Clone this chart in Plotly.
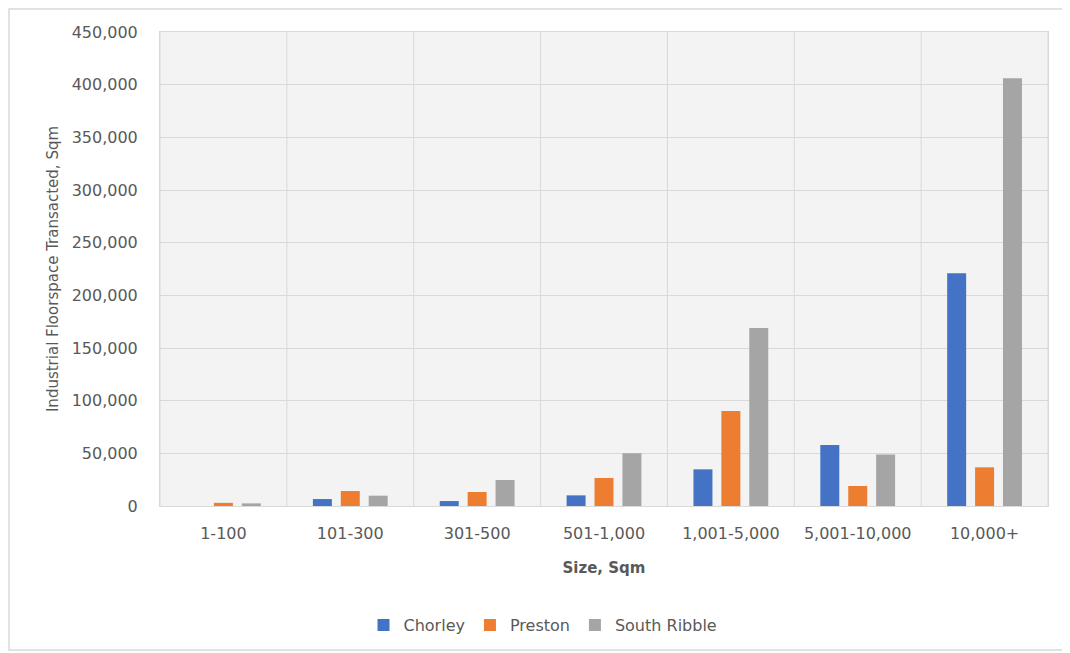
import plotly.graph_objects as go

categories = ["1-100", "101-300", "301-500", "501-1,000", "1,001-5,000", "5,001-10,000", "10,000+"]
chorley = [0, 6600, 4700, 10100, 34800, 57900, 221000]
preston = [3000, 14200, 13300, 26600, 90100, 19000, 36700]
south_ribble = [2500, 9800, 24700, 50000, 168900, 49000, 406000]
series_names = ["Chorley", "Preston", "South Ribble"]
colors = ["#4472C4", "#ED7D31", "#A5A5A5"]

FONT = "DejaVu Sans"
TXT = "#595959"

fig = go.Figure()
for name, vals, col in zip(series_names, [chorley, preston, south_ribble], colors):
    fig.add_trace(go.Bar(name=name, x=categories, y=vals, marker_color=col,
                         marker_line_width=0))

# plot area on screen: x 160..1048, y 32..506
PW, PH = 888.0, 474.0
shapes = []
for i in range(len(categories) + 1):
    shapes.append(dict(type="line", xref="x", yref="paper", x0=i - 0.5, x1=i - 0.5,
                       y0=0, y1=1, line=dict(color="#d9d9d9", width=1), layer="below"))
shapes.append(dict(type="rect", xref="paper", yref="paper",
                   x0=(9 - 160) / PW, x1=(1065 - 160) / PW,
                   y0=-(650 - 506) / PH, y1=1 + (32 - 9) / PH,
                   line=dict(color="#d9d9d9", width=1.5)))

fig.update_layout(
    width=1070, height=653,
    margin=dict(l=152, r=30, t=24, b=155),
    paper_bgcolor="white",
    plot_bgcolor="#f3f3f3",
    barmode="group",
    bargap=0.34,
    bargroupgap=0.32,
    font=dict(family=FONT, color=TXT, size=15),
    shapes=shapes,
    legend=dict(orientation="h", xref="container", x=0.5, xanchor="center",
                yref="container", y=0.055, yanchor="middle",
                font=dict(size=16, color=TXT), traceorder="normal"),
    xaxis=dict(
        type="category", range=[-0.5, len(categories) - 0.5],
        showgrid=False, showline=True, linecolor="#d9d9d9", mirror=True,
        ticks="", ticklabelstandoff=13, tickfont=dict(size=16, color=TXT),
        title=dict(text="<b>Size, Sqm</b>", font=dict(size=15, color=TXT), standoff=20),
    ),
    yaxis=dict(
        range=[0, 450000], dtick=50000, tickformat=",",
        showgrid=True, gridcolor="#d9d9d9", gridwidth=1,
        showline=True, linecolor="#d9d9d9", mirror=True,
        zeroline=False, ticks="", ticklabelstandoff=18,
        tickfont=dict(size=16, color=TXT),
        title=dict(text="Industrial Floorspace Transacted, Sqm",
                   font=dict(size=15, color=TXT), standoff=9),
    ),
)

fig.write_html("out.html")
